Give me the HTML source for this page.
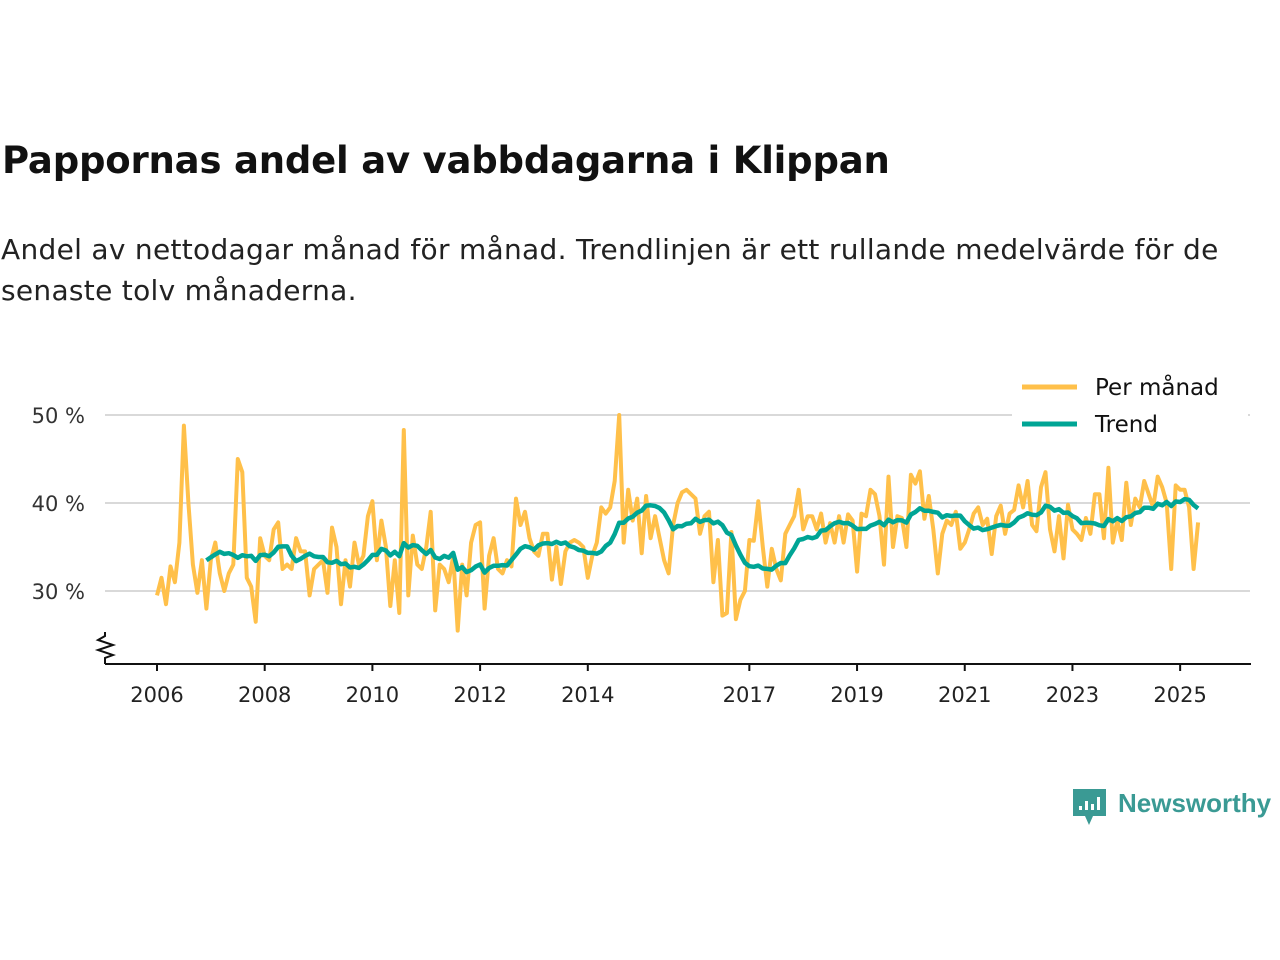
<!DOCTYPE html>
<html><head><meta charset="utf-8">
<style>
body{margin:0;background:#fff;font-family:"Liberation Sans","DejaVu Sans",sans-serif;}
#wrap{position:relative;width:1280px;height:960px;overflow:hidden;}
h1{position:absolute;left:2px;top:139px;margin:0;font-size:37px;font-weight:bold;color:#111;font-family:"DejaVu Sans","Liberation Sans",sans-serif;letter-spacing:-0.2px;white-space:nowrap}
.sub{position:absolute;left:1px;top:229px;margin:0;font-size:28px;line-height:41px;color:#222;font-family:"DejaVu Sans","Liberation Sans",sans-serif;width:1250px;letter-spacing:0.3px}
svg text{font-family:"DejaVu Sans","Liberation Sans",sans-serif;}
</style></head><body>
<div id="wrap">
<h1>Pappornas andel av vabbdagarna i Klippan</h1>
<p class="sub">Andel av nettodagar månad för månad. Trendlinjen är ett rullande medelvärde för de senaste tolv månaderna.</p>
<svg id="chart" width="1280" height="960" style="position:absolute;left:0;top:0"></svg>
</div>
<script>
const startYear = 2006;
const monthly = [
29.5,31.5,28.5,32.8,31,35.5,48.8,40,33,29.8,33.5,28,
33.5,35.5,32,30,32,33,45,43.5,31.5,30.5,26.5,36,
34,33.5,37,37.8,32.5,33,32.5,36,34.5,34.5,29.5,32.5,
33,33.5,29.8,37.2,35,28.5,33.5,30.5,35.5,33,34,38.5,
40.2,33.5,38,35,28.3,33.5,27.5,48.3,29.5,36.3,33,32.5,
35,39,27.8,33,32.5,31,34,25.5,33,29.5,35.5,37.5,
37.8,28,34,36,32.5,32,33.5,32.8,40.5,37.5,39,36,
34.5,34,36.5,36.5,31.3,35,30.8,34.5,35.5,35.8,35.5,35,
31.5,34,35.5,39.5,38.8,39.5,42.5,50,35.5,41.5,38,40.5,
34.3,40.8,36,38.5,36,33.5,32,37.5,40,41.2,41.5,41,
40.5,36.5,38.5,39,31,35.8,27.2,27.5,36.7,26.8,29,30,
35.8,35.7,40.2,35,30.5,34.8,32.5,31.2,36.5,37.5,38.5,41.5,
37,38.5,38.5,37,38.8,35.5,37.7,35.5,38.5,35.5,38.7,38,
32.2,38.8,38.5,41.5,41,38.5,33,43,35,38.5,38.3,35,
43.2,42.2,43.6,38.2,40.8,37,32,36.5,38,37.5,39,34.8,
35.5,37,38.8,39.5,37.5,38.2,34.2,38.5,39.7,36.5,38.8,39.2,
42,39.5,42.5,37.5,36.8,41.8,43.5,37,34.5,38.5,33.7,39.8,
37,36.5,35.8,38.3,36.5,41,41,36,44,35.5,38,35.8,
42.3,37.5,40.5,39.5,42.5,41,39.5,43,41.8,40,32.5,42,
41.5,41.5,39.5,32.5,37.8
];
const yTicks = [30,40,50];
const yTickLabels = ["30 %","40 %","50 %"];
const xTickYears = [2006,2008,2010,2012,2014,2017,2019,2021,2023,2025];

const NS="http://www.w3.org/2000/svg";
const svg=document.getElementById('chart');
function X(t){return 157+(t-2006)*53.85;}
function Y(v){return 591-(v-30)*8.8;}
function mk(tag,attrs,parent){const e=document.createElementNS(NS,tag);for(const k in attrs)e.setAttribute(k,attrs[k]);(parent||svg).appendChild(e);return e;}

yTicks.forEach((v,i)=>{
  const g=mk('line',{x1:105,x2:1250,y1:Y(v),y2:Y(v),stroke:'#d9d9d9','stroke-width':2});
  
  
  const t=mk('text',{x:85,y:Y(v)+8,'text-anchor':'end','font-size':21,fill:'#333'});
  t.textContent=yTickLabels[i];
  
  
});
const ax=mk('line',{x1:105,x2:1251,y1:664,y2:664,stroke:'#111','stroke-width':2});


const brk=mk('polyline',{points:'105,632 105,636 98,640 113,645 98,650 113,655 105,658 105,664',fill:'none',stroke:'#111','stroke-width':2});


xTickYears.forEach(y=>{
  const tk=mk('line',{x1:X(y),x2:X(y),y1:664,y2:671,stroke:'#111','stroke-width':2});
  
  
  const t=mk('text',{x:X(y),y:702,'text-anchor':'middle','font-size':21,fill:'#222'});
  t.textContent=y;
  
  
});
const pts=monthly.map((v,i)=>X(startYear+i/12).toFixed(1)+','+Y(v).toFixed(1)).join(' ');
const l1=mk('polyline',{points:pts,fill:'none',stroke:'#ffc04a','stroke-width':4,'stroke-linejoin':'round'});


const tp=[];
for(let i=11;i<monthly.length;i++){let s=0;for(let j=i-11;j<=i;j++)s+=monthly[j];tp.push(X(startYear+i/12).toFixed(1)+','+Y(s/12).toFixed(1));}
const l2=mk('polyline',{points:tp.join(' '),fill:'none',stroke:'#00a595','stroke-width':4.5,'stroke-linejoin':'round'});


const lg=mk('g',{});


mk('rect',{x:1012,y:368,width:236,height:74,fill:'#fff'},lg);
const e1=mk('line',{x1:1022,x2:1077,y1:387,y2:387,stroke:'#ffc04a','stroke-width':5},lg);


const t1=mk('text',{x:1095,y:395,'font-size':23,fill:'#111'},lg);t1.textContent='Per månad';


const e2=mk('line',{x1:1022,x2:1077,y1:424,y2:424,stroke:'#00a595','stroke-width':5},lg);


const t2=mk('text',{x:1095,y:432,'font-size':23,fill:'#111'},lg);t2.textContent='Trend';


const lo=mk('g',{});


mk('path',{d:'M1073,789 h33 v27 h-13 l-4,9 l-4,-9 h-12 z',fill:'#3a9a94'},lo);
[[1079,806,4],[1085,801,9],[1091,804,6],[1097,797,13]].forEach(b=>mk('rect',{x:b[0],y:b[1],width:3,height:b[2],fill:'#fff'},lo));
const lt=mk('text',{x:1118,y:812,'font-size':26,'font-weight':'bold',fill:'#3a9a94',style:'font-family:"Liberation Sans",sans-serif'},lo);lt.textContent='Newsworthy';
</script>
</body></html>
